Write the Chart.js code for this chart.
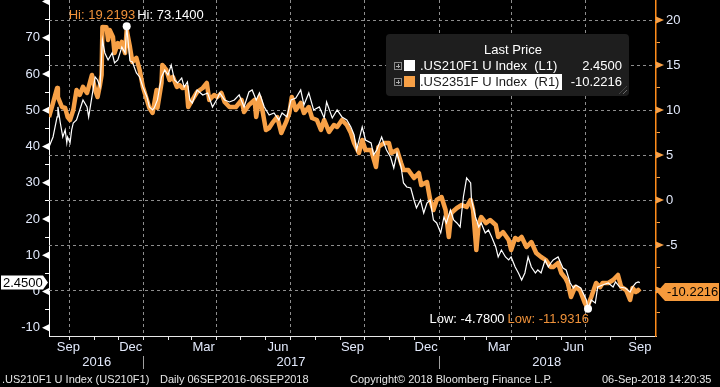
<!DOCTYPE html>
<html>
<head>
<meta charset="utf-8">
<script src="https://cdn.jsdelivr.net/npm/chart.js@4.4.0/dist/chart.umd.min.js"></script>
<style>
  html, body { margin: 0; padding: 0; background: #000; }
  #wrap { position: relative; width: 720px; height: 387px; overflow: hidden; background: #000;
          font-family: 'Liberation Sans', Arial, sans-serif; }
  #chart { position: absolute; left: 0; top: 0; }
  .legend { position: absolute; left: 386px; top: 34px; width: 243px; height: 62px;
            background: #1e1e1e; border-radius: 4px; color: #fff; font-size: 13px; }
  .legend .lt { position: absolute; left: 0; width: 254px; top: 8px; text-align: center; }
  .legend .row { position: absolute; left: 0; width: 243px; height: 16px; line-height: 16px; white-space: pre; }
  .legend .r1 { top: 24px; }
  .legend .r2 { top: 40px; }
  .legend .ico { position: absolute; left: 8px; top: 4px; width: 6px; height: 6px; border: 1px solid #8a8a8a; }
  .legend .ico:before { content: ''; position: absolute; left: 1px; top: 2.5px; width: 4px; height: 1px; background: #aaa; }
  .legend .ico:after { content: ''; position: absolute; left: 2.5px; top: 1px; width: 1px; height: 4px; background: #aaa; }
  .legend .sw { position: absolute; left: 18px; top: 2px; width: 11px; height: 11px; }
  .legend .nm { position: absolute; left: 34px; top: 0; padding-right: 3px; }
  .legend .hl { background: #fff; color: #1a1a1a; }
  .legend .val { position: absolute; right: 7px; top: 0; }
  .legend .grip { position: absolute; right: 2px; bottom: 2px; width: 8px; height: 8px;
                  background: repeating-linear-gradient(135deg, transparent 0 2px, #6a6a6a 2px 3px);
                  clip-path: polygon(100% 0, 100% 100%, 0 100%); }
  .foot { position: absolute; top: 371px; height: 16px; line-height: 16px; font-size: 11px; color: #e6e6e6; white-space: pre; }
</style>
</head>
<body>
<div id="wrap">
  <canvas id="chart" width="720" height="387"></canvas>
  <div class="legend">
    <div class="lt">Last Price</div>
    <div class="row r1"><span class="ico"></span><span class="sw" style="background:#ffffff"></span><span class="nm">.US210F1 U Index  (L1)</span><span class="val" id="v1"></span></div>
    <div class="row r2"><span class="ico"></span><span class="sw" style="background:#f7a046"></span><span class="nm hl">.US2351F U Index  (R1)</span><span class="val" id="v2"></span></div>
    <span class="grip"></span>
  </div>
  <span class="foot" style="left:2px">.US210F1 U Index (US210F1)</span>
  <span class="foot" style="left:160px">Daily 06SEP2016-06SEP2018</span>
  <span class="foot" style="left:350px">Copyright© 2018 Bloomberg Finance L.P.</span>
  <span class="foot" style="left:602px">06-Sep-2018 14:20:35</span>
</div>
<script>
// Days are counted from 06 Sep 2016.
var whiteDays = [0, 5, 10, 11, 14, 17, 20, 22, 23, 26, 28, 30, 34, 38, 42, 47, 49, 53, 57, 60,
  63, 66, 69, 73, 78, 81, 85, 90, 94, 96, 100, 103, 108, 112, 116, 121, 124, 128, 130, 134,
  139, 143, 147, 151, 155, 159, 164, 167, 171, 174, 177, 183, 190, 196, 202, 207, 211, 217, 223, 229,
  235, 241, 247, 251, 256, 260, 266, 272, 278, 284, 288, 294, 299, 305, 311, 315, 321, 327, 334, 340,
  343, 350, 356, 362, 368, 373, 377, 380, 387, 391, 398, 401, 405, 411, 417, 422, 426, 430, 435, 438,
  442, 447, 451, 454, 459, 463, 467, 471, 475, 479, 484, 488, 491, 496, 500, 504, 508, 512, 516, 521,
  522, 527, 531, 534, 539, 543, 547, 552, 555, 559, 564, 568, 571, 576, 580, 584, 588, 592, 596, 601,
  604, 608, 613, 617, 620, 623, 629, 635, 639, 644, 648, 651, 657, 664, 666, 670, 675, 678, 684, 691,
  697, 700, 705, 712, 718, 721, 725, 728, 730];
var whiteVals = [39.86, 42.62, 48.14, 50.90, 46.48, 42.62, 44.55, 40.97, 42.62, 40.97,
  44.55, 46.48, 47.31, 50.07, 52.83, 50.90, 48.14, 53.66, 59.17, 58.34,
  56.41, 69.38, 65.79, 63.86, 65.79, 63.03, 63.86, 67.45, 65.79, 73.14,
  63.59, 63.31, 60.28, 59.17, 56.41, 53.66, 50.90, 50.07, 50.62, 52.83,
  59.17, 61.10, 59.72, 62.48, 58.34, 57.52, 58.90, 56.41, 57.79, 52.83,
  52.00, 55.59, 54.21, 54.76, 50.90, 52.83, 54.76, 52.83, 52.28, 52.83,
  54.21, 50.90, 55.03, 55.59, 52.83, 54.76, 50.90, 48.69, 49.24, 47.31,
  49.24, 48.14, 52.83, 53.38, 55.59, 51.45, 54.76, 50.07, 50.90, 47.86,
  52.28, 47.86, 50.07, 48.14, 47.31, 45.38, 43.17, 39.03, 45.38, 41.79,
  40.97, 37.66, 39.03, 42.62, 39.03, 37.10, 34.07, 38.21, 34.34, 29.93,
  28.83, 28.55, 25.24, 23.03, 25.24, 21.66, 24.41, 25.24, 19.72, 18.90,
  16.14, 20.55, 18.90, 22.48, 19.72, 18.90, 17.79, 26.07, 31.31, 29.93,
  25.24, 20.55, 17.79, 18.90, 16.14, 16.97, 15.03, 12.28, 9.52, 11.45,
  9.52, 8.69, 9.52, 6.76, 5.10, 3.17, 5.10, 9.52, 6.76, 5.10,
  5.93, 5.10, 8.69, 6.76, 7.86, 8.69, 9.52, 6.48, 5.93, 2.34,
  0.97, 1.79, 0.97, -2.34, -4.78, -2.34, -3.17, 1.24, 1.79, 2.34,
  1.24, 2.62, 1.24, 0.97, -0.14, 1.24, 2.34, 2.62, 2.45];

var orangeDays = [0, 5, 10, 11, 16, 20, 23, 26, 30, 34, 38, 42, 47, 53, 57, 60, 63, 65, 66, 71,
  73, 75, 79, 81, 85, 87, 90, 94, 96, 100, 103, 108, 112, 116, 121, 124, 128, 133, 134, 139,
  140, 145, 149, 153, 158, 161, 165, 170, 172, 177, 183, 190, 195, 198, 204, 208, 213, 217, 223, 231,
  238, 241, 247, 254, 256, 260, 263, 268, 272, 276, 282, 287, 293, 297, 300, 305, 311, 315, 321, 325,
  331, 336, 340, 346, 352, 356, 362, 368, 373, 377, 383, 387, 391, 398, 404, 407, 414, 420, 423, 430,
  435, 438, 444, 451, 457, 460, 467, 471, 475, 479, 485, 490, 494, 497, 504, 510, 516, 521, 524, 528,
  531, 534, 540, 545, 552, 555, 561, 568, 571, 576, 580, 584, 590, 596, 602, 608, 614, 620, 623, 629,
  633, 638, 641, 645, 650, 656, 662, 665, 670, 676, 681, 684, 691, 697, 703, 707, 713, 718, 721, 725,
  728, 730];
var orangeVals = [9.22, 10.78, 12.44, 11.44, 10.33, 10.22, 9.22, 8.89, 10.0, 12.22,
  11.67, 12.56, 11.89, 13.89, 12.22, 11.44, 12.78, 13.89, 19.22, 19.2,
  17.78, 18.89, 18.11, 16.33, 17.44, 17.0, 17.56, 16.33, 18.89, 17.0,
  15.33, 15.78, 14.44, 12.56, 11.11, 10.22, 9.67, 12.22, 10.22, 13.0,
  15.0, 14.44, 13.33, 13.67, 12.56, 12.78, 12.44, 12.56, 10.33, 11.11,
  12.0, 12.44, 13.0, 11.11, 11.67, 11.44, 11.89, 10.89, 10.33, 10.33,
  11.11, 9.78, 10.56, 11.11, 9.22, 11.44, 10.33, 7.78, 8.0, 8.56,
  9.22, 7.44, 8.67, 9.67, 11.44, 10.0, 10.78, 9.67, 10.33, 9.11,
  8.89, 7.78, 8.89, 7.56, 8.33, 8.11, 8.89, 8.33, 7.44, 6.33,
  5.22, 6.67, 5.56, 5.56, 3.67, 5.89, 6.33, 6.33, 5.22, 5.56,
  4.11, 3.33, 3.33, 2.44, 3.0, 1.67, 2.0, 0.0, -1.11, 0.0,
  0.33, -1.11, -4.11, -1.44, -0.89, -0.56, -0.78, 0.0, -1.11, -5.56,
  -2.56, -1.89, -2.56, -2.22, -2.78, -4.11, -3.56, -4.44, -5.56, -4.22,
  -4.44, -4.11, -5.22, -4.67, -5.89, -6.33, -6.67, -7.44, -7.44, -7.0,
  -8.11, -8.67, -9.22, -10.78, -9.67, -10.0, -11.44, -11.9316, -10.78, -9.22,
  -9.67, -9.22, -9.22, -8.89, -8.33, -9.67, -10.0, -11.11, -9.78, -10.22,
  -10.0, -10.2216];

// Hi values
var whiteHi = 73.14, orangeHi = 19.2193;

// Axis ticks
var monthStarts = [25, 56, 86, 117, 148, 176, 207, 237, 268, 298, 329, 360, 390, 421, 451,
  482, 513, 541, 572, 602, 633, 663, 694, 725];
var quarterStarts = [25, 117, 207, 298, 390, 482, 572, 663];
var monthLabelDays = [24, 101, 191, 283, 375, 466, 556, 648, 730];
var monthLabels = ['Sep', 'Dec', 'Mar', 'Jun', 'Sep', 'Dec', 'Mar', 'Jun', 'Sep'];
var yearDays = [59, 117, 299, 482, 615];
var yearLabels = ['2016', '', '2017', '', '2018'];
var leftTicks = [-10, -5, 0, 5, 10, 15, 20, 25, 30, 35, 40, 45, 50, 55, 60, 65, 70, 75, 80];
var rightTicks = [-12.5, -10, -7.5, -5, -2.5, 0, 2.5, 5, 7.5, 10, 12.5, 15, 17.5, 20];

var ORANGE = '#f7a046';
var LABEL = '#e2e9fb';
var GRID = '#8e8e8e';
var CLEAR = 'rgba(0,0,0,0)';

function pts(xs, ys) { return xs.map(function (x, i) { return { x: x, y: ys[i] }; }); }
function argMax(a) { var k = 0; a.forEach(function (v, i) { if (v > a[k]) k = i; }); return k; }
function argMin(a) { var k = 0; a.forEach(function (v, i) { if (v < a[k]) k = i; }); return k; }
function fixTicks(list) { return function (axis) { axis.ticks = list.map(function (v) { return { value: v }; }); }; }
function noPad(axis) { axis.paddingTop = 0; axis.paddingBottom = 0; axis.paddingLeft = 0; axis.paddingRight = 0; }
function isMajor(c, step) { return !!(c.tick && Math.abs(c.tick.value % step) < 1e-9); }

var wHiIdx = argMax(whiteVals), wLoIdx = argMin(whiteVals), oLoIdx = argMin(orangeVals);
var whiteLast = whiteVals[whiteVals.length - 1], orangeLast = orangeVals[orangeVals.length - 1];
document.getElementById('v1').textContent = whiteLast.toFixed(4);
document.getElementById('v2').textContent = orangeLast.toFixed(4);

Chart.defaults.font.family = "'Liberation Sans', Arial, sans-serif";
Chart.defaults.font.size = 13;

function tri(ctx, x, y, dx) {
  ctx.beginPath();
  ctx.moveTo(x, y - 3.5);
  ctx.lineTo(x + dx, y);
  ctx.lineTo(x, y + 3.5);
  ctx.closePath();
  ctx.fill();
}

function marker(ctx, tipX, y, boxL, boxR, dir, fill, text) {
  ctx.fillStyle = fill;
  ctx.beginPath();
  if (dir > 0) { // tip on the right
    ctx.moveTo(boxL, y - 7); ctx.lineTo(boxR, y - 7); ctx.lineTo(tipX, y); ctx.lineTo(boxR, y + 7); ctx.lineTo(boxL, y + 7);
  } else {
    ctx.moveTo(boxR, y - 9); ctx.lineTo(boxL, y - 9); ctx.lineTo(tipX, y); ctx.lineTo(boxL, y + 9); ctx.lineTo(boxR, y + 9);
  }
  ctx.closePath();
  ctx.fill();
  ctx.fillStyle = '#000';
  ctx.textBaseline = 'middle';
  ctx.textAlign = 'left';
  ctx.fillText(text, boxL + 2, y + 0.5);
}

var decor = {
  id: 'decor',
  // horizontal grid follows the right-hand axis, drawn under the lines
  beforeDatasetsDraw: function (chart) {
    var ctx = chart.ctx, a = chart.chartArea, yR = chart.scales.yR;
    ctx.save();
    ctx.strokeStyle = GRID;
    ctx.lineWidth = 1;
    ctx.setLineDash([3, 3]);
    rightTicks.forEach(function (v) {
      if (v % 5 !== 0) return;
      var py = Math.round(yR.getPixelForValue(v)) + 0.5;
      ctx.beginPath();
      ctx.moveTo(a.left, py);
      ctx.lineTo(a.right, py);
      ctx.stroke();
    });
    ctx.restore();
  },
  afterDraw: function (chart) {
    var ctx = chart.ctx, yL = chart.scales.yL, yR = chart.scales.yR, x = chart.scales.x;
    ctx.save();
    ctx.font = "13px 'Liberation Sans', Arial, sans-serif";
    // major tick arrows
    ctx.fillStyle = '#ffffff';
    leftTicks.forEach(function (v) { if (v % 10 === 0) tri(ctx, yL.right, yL.getPixelForValue(v), -7); });
    ctx.fillStyle = ORANGE;
    rightTicks.forEach(function (v) { if (v % 5 === 0) tri(ctx, yR.left, yR.getPixelForValue(v), 8); });

    // hi / low labels
    var hx = x.getPixelForValue(whiteDays[wHiIdx]), hy = yL.getPixelForValue(whiteVals[wHiIdx]);
    var tOH = 'Hi: ' + orangeHi.toFixed(4), tWH = 'Hi: ' + whiteHi.toFixed(4);
    ctx.textBaseline = 'middle';
    ctx.textAlign = 'left';
    ctx.fillStyle = '#f0923a';
    ctx.fillText(tOH, hx - 58, hy - 11);
    ctx.fillStyle = '#ffffff';
    ctx.fillText(tWH, hx - 58 + ctx.measureText(tOH).width + 2, hy - 11);

    var lx = x.getPixelForValue(whiteDays[wLoIdx]), ly = yL.getPixelForValue(whiteVals[wLoIdx]);
    var tOL = 'Low: ' + orangeVals[oLoIdx].toFixed(4), tWL = 'Low: ' + whiteVals[wLoIdx].toFixed(4);
    var wOL = ctx.measureText(tOL).width;
    ctx.fillStyle = '#f0923a';
    ctx.fillText(tOL, lx + 1 - wOL, ly + 11);
    ctx.fillStyle = '#ffffff';
    ctx.fillText(tWL, lx + 1 - wOL - 3 - ctx.measureText(tWL).width, ly + 11);

    // last value markers
    marker(ctx, yL.right - 1, yL.getPixelForValue(whiteLast), 1, 43, 1, '#ffffff', whiteLast.toFixed(4));
    marker(ctx, yR.left + 1, yR.getPixelForValue(orangeLast), 665, 719, -1, '#f59a3c', orangeLast.toFixed(4));
    ctx.restore();
  }
};

new Chart(document.getElementById('chart'), {
  type: 'line',
  data: {
    datasets: [{
      label: '.US210F1 U Index (L1)',
      data: pts(whiteDays, whiteVals),
      xAxisID: 'x',
      yAxisID: 'yL',
      borderColor: '#ffffff',
      borderWidth: 1.2,
      pointRadius: function (c) { return (c.dataIndex === wHiIdx || c.dataIndex === wLoIdx) ? 4 : 0; },
      pointBackgroundColor: '#ffffff',
      pointBorderWidth: 0,
      tension: 0
    }, {
      label: '.US2351F U Index (R1)',
      data: pts(orangeDays, orangeVals),
      xAxisID: 'x',
      yAxisID: 'yR',
      borderColor: ORANGE,
      borderWidth: 4.5,
      borderJoinStyle: 'round',
      pointRadius: 0,
      tension: 0
    }]
  },
  options: {
    responsive: false,
    animation: false,
    devicePixelRatio: 1,
    layout: { padding: { left: 0, right: 0, top: 0, bottom: 16 } },
    plugins: { legend: { display: false }, tooltip: { enabled: false } },
    scales: {
      x: {
        type: 'linear', position: 'bottom', min: 0, max: 750, weight: 0,
        afterBuildTicks: fixTicks(monthStarts),
        afterFit: function (a) { a.height = 4; noPad(a); },
        ticks: { autoSkip: false, maxTicksLimit: 100, callback: function () { return ''; }, padding: 0 },
        grid: {
          color: function (c) { return c.tick && quarterStarts.indexOf(c.tick.value) >= 0 ? GRID : CLEAR; },
          tickColor: '#e8e8e8', tickLength: 4, tickBorderDash: []
        },
        border: { display: true, color: '#e8e8e8', width: 1, dash: [3, 3] }
      },
      xm: {
        type: 'linear', position: 'bottom', min: 0, max: 750, weight: 1,
        afterBuildTicks: fixTicks(monthLabelDays),
        afterFit: function (a) { a.height = 16; noPad(a); },
        ticks: { autoSkip: false, maxTicksLimit: 100, maxRotation: 0, padding: 0, color: LABEL,
                 callback: function (v, i) { return monthLabels[i]; } },
        grid: { display: false, drawTicks: false },
        border: { display: false }
      },
      xy: {
        type: 'linear', position: 'bottom', min: 0, max: 750, weight: 2,
        afterBuildTicks: fixTicks(yearDays),
        afterFit: function (a) { a.height = 15; noPad(a); },
        ticks: { autoSkip: false, maxTicksLimit: 100, maxRotation: 0, padding: -14, color: LABEL,
                 callback: function (v, i) { return yearLabels[i]; } },
        grid: {
          drawOnChartArea: false, tickLength: 13,
          tickColor: function (c) { return c.tick && yearLabels[yearDays.indexOf(c.tick.value)] === '' ? '#a0a0a0' : CLEAR; }
        },
        border: { display: false }
      },
      yL: {
        type: 'linear', position: 'left', min: -12.28, max: 80.4,
        afterBuildTicks: fixTicks(leftTicks),
        afterFit: function (a) { a.width = 49; noPad(a); },
        ticks: { autoSkip: false, maxTicksLimit: 100, padding: 5, color: LABEL,
                 callback: function (v) { return (v % 10 === 0 && v < 80) ? String(v) : ''; } },
        grid: {
          drawOnChartArea: false, tickLength: 4,
          tickColor: function (c) { return isMajor(c, 10) ? CLEAR : '#ffffff'; }
        },
        border: { display: true, color: '#ffffff', width: 1 }
      },
      yR: {
        type: 'linear', position: 'right', min: -15.11, max: 22.22,
        afterBuildTicks: fixTicks(rightTicks),
        afterFit: function (a) { a.width = 64; noPad(a); },
        ticks: { autoSkip: false, maxTicksLimit: 100, padding: 6, color: LABEL,
                 callback: function (v) { return v % 5 === 0 ? String(v) : ''; } },
        grid: {
          drawOnChartArea: false,
          tickLength: 4, tickBorderDash: [],
          tickColor: function (c) { return isMajor(c, 5) ? CLEAR : ORANGE; }
        },
        border: { display: true, color: '#ff8c1a', width: 1.5 }
      }
    }
  },
  plugins: [decor]
});
</script>
</body>
</html>
